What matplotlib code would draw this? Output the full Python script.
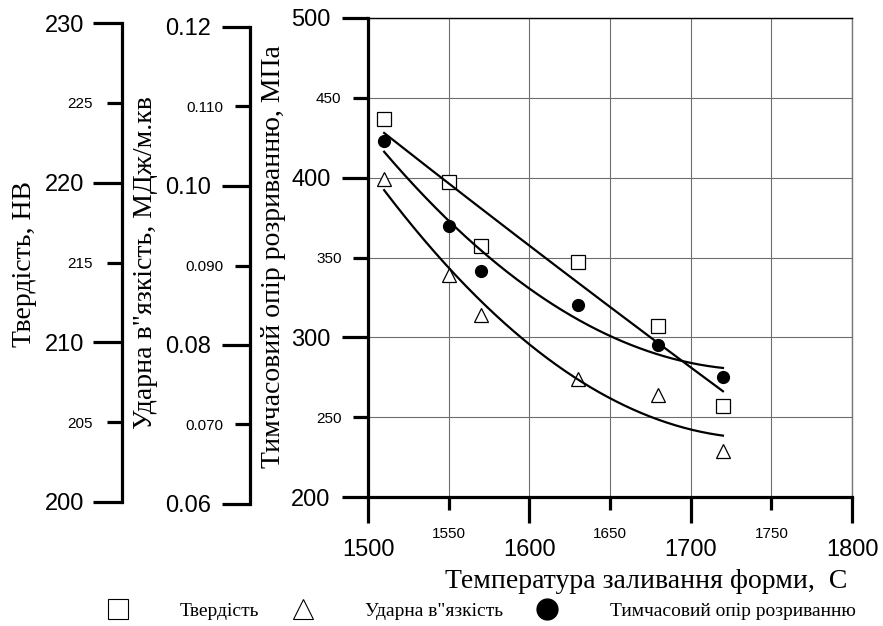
import numpy as np
import matplotlib.pyplot as plt
from matplotlib.lines import Line2D

plt.rcParams['font.family'] = ['Liberation Sans', 'DejaVu Sans']
serif = ['Liberation Serif', 'DejaVu Serif']

# temperatures of mould pouring, C
temp = [1510, 1550, 1570, 1630, 1680, 1720]
# values as drawn on the main (MPa) scale
hardness = [437, 397, 357, 347, 307, 257]
impact = [399, 339, 314, 274, 264, 229]
strength = [423, 370, 341.5, 320, 295.5, 275]

labels = ['Твердість', 'Ударна в"язкість', 'Тимчасовий опір розриванню']

fig = plt.figure(figsize=(8.83, 6.26), dpi=100)
W, H = 883, 626

ax = fig.add_axes([368 / W, 1 - 497 / H, (852 - 368) / W, (497 - 18) / H])
ax.set_xlim(1500, 1800)
ax.set_ylim(200, 500)

ax.set_xticks([1500, 1600, 1700, 1800])
ax.set_xticks([1550, 1650, 1750], minor=True)
ax.set_xticklabels(['1500', '1600', '1700', '1800'])
ax.set_xticklabels(['1550', '1650', '1750'], minor=True)
ax.set_yticks([200, 300, 400, 500])
ax.set_yticks([250, 350, 450], minor=True)
ax.set_yticklabels(['200', '300', '400', '500'])
ax.set_yticklabels(['250', '350', '450'], minor=True)

ax.tick_params(axis='x', which='major', length=19, width=2.3, labelsize=17, pad=11)
ax.tick_params(axis='x', which='minor', length=9.5, width=2.3, labelsize=11, pad=12)
ax.tick_params(axis='y', which='major', length=19, width=2.3, labelsize=17, pad=8)
ax.tick_params(axis='y', which='minor', length=11, width=2.3, labelsize=11, pad=8)
ax.grid(True, which='both', color='#6e6e6e', linewidth=0.8)
ax.set_axisbelow(True)

for s in ['left', 'bottom']:
    ax.spines[s].set_linewidth(2.3)
ax.spines['top'].set_linewidth(1.0)
ax.spines['right'].set_linewidth(1.0)
ax.spines['right'].set_color('#777777')

ax.plot(temp, hardness, ls='none', marker='s', ms=9.5, mfc='white', mec='black', mew=0.9)
ax.plot(temp, impact, ls='none', marker='^', ms=9.5, mfc='white', mec='black', mew=0.9)
ax.plot(temp, strength, ls='none', marker='o', ms=8.5, mfc='black', mec='black')

# quadratic trend lines
xs = np.linspace(temp[0], temp[-1], 200)
for ys in (hardness, impact, strength):
    c = np.polyfit(temp, ys, 2)
    ax.plot(xs, np.polyval(c, xs), color='black', lw=1.6)

# hardness scale
ax1 = fig.add_axes([122 / W, 1 - 502 / H, 0.0001, (502 - 23) / H])
ax1.set_ylim(200, 230)
ax1.set_yticks([200, 210, 220, 230])
ax1.set_yticks([205, 215, 225], minor=True)
ax1.set_yticklabels(['200', '210', '220', '230'])
ax1.set_yticklabels(['205', '215', '225'], minor=True)
ax1.tick_params(axis='y', which='major', length=21, width=2.3, labelsize=17, pad=6)
ax1.tick_params(axis='y', which='minor', length=11, width=2.3, labelsize=11, pad=10)

# impact toughness scale
ax2 = fig.add_axes([250 / W, 1 - 504 / H, 0.0001, (504 - 27) / H])
ax2.set_ylim(0.06, 0.12)
ax2.set_yticks([0.06, 0.08, 0.10, 0.12])
ax2.set_yticks([0.07, 0.09, 0.11], minor=True)
ax2.set_yticklabels(['0.06', '0.08', '0.10', '0.12'])
ax2.set_yticklabels(['0.070', '0.090', '0.110'], minor=True)
ax2.tick_params(axis='y', which='major', length=20, width=2.3, labelsize=17, pad=8)
ax2.tick_params(axis='y', which='minor', length=11, width=2.3, labelsize=11, pad=8)

for a in (ax1, ax2):
    a.set_xticks([])
    a.patch.set_visible(False)
    for s in ['right', 'top', 'bottom']:
        a.spines[s].set_visible(False)
    a.spines['left'].set_linewidth(2.3)

fig.text(25 / W, 1 - 264 / H, 'Твердість, НВ', rotation=90, ha='center', va='center',
         fontsize=20, family=serif)
fig.text(145 / W, 1 - 263 / H, 'Ударна в"язкість, МДж/м.кв', rotation=90, ha='center',
         va='center', fontsize=20, family=serif)
fig.text(273 / W, 1 - 257 / H, 'Тимчасовий опір розриванню, МПа', rotation=90,
         ha='center', va='center', fontsize=20, family=serif)
fig.text(646 / W, 1 - 582 / H, 'Температура заливання форми,  С', ha='center',
         va='center', fontsize=20, family=serif)

handles = [
    Line2D([], [], ls='none', marker='s', ms=14, mfc='white', mec='black', mew=0.8),
    Line2D([], [], ls='none', marker='^', ms=15, mfc='white', mec='black', mew=0.8),
    Line2D([], [], ls='none', marker='o', ms=15, mfc='black', mec='black'),
]
fig.legend(handles, labels, loc='center left', bbox_to_anchor=(108 / W, 1 - 611 / H),
           ncol=3, frameon=False, borderpad=0, borderaxespad=0, handlelength=1.0,
           handletextpad=2.7, columnspacing=1.75, prop={'family': serif, 'size': 14})

fig.savefig('out.png', dpi=100)
